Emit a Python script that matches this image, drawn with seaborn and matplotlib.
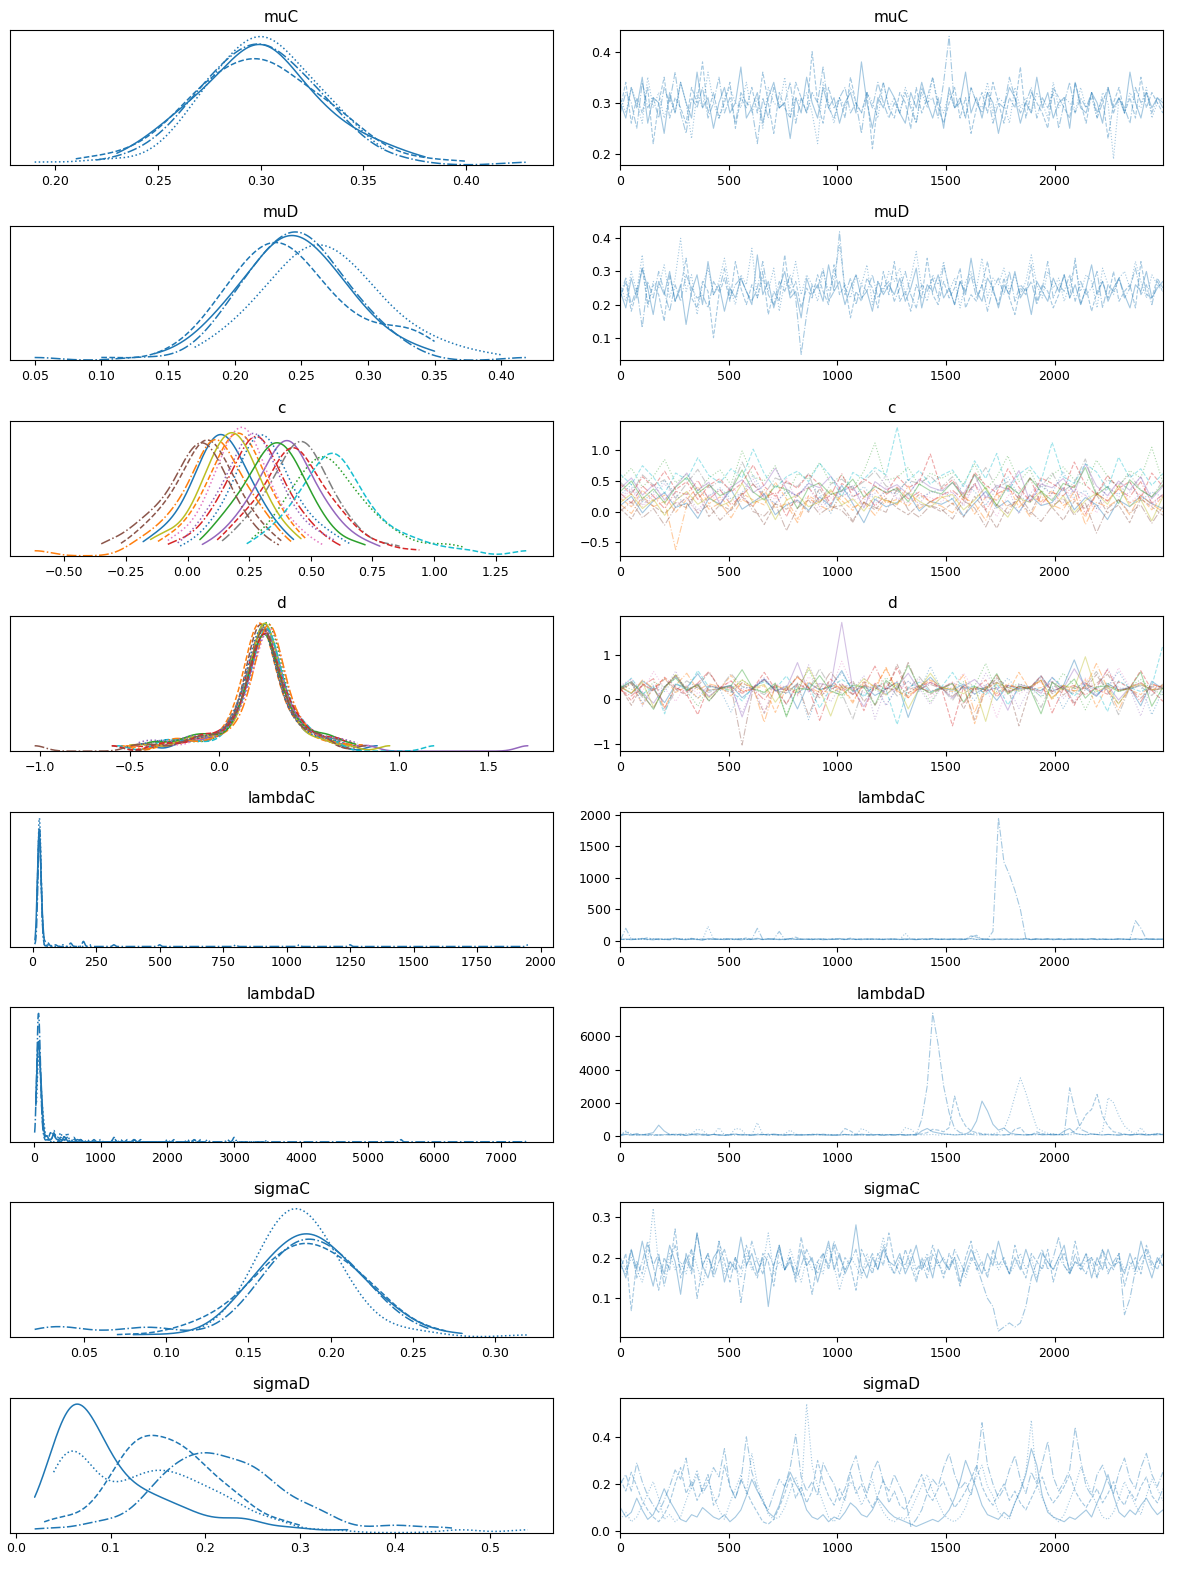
import numpy as np
import matplotlib
matplotlib.use("Agg")
import matplotlib.pyplot as plt
import seaborn as sns

var_names = ["muC", "muD", "c", "d", "lambdaC", "lambdaD", "sigmaC", "sigmaD"]
n_draws = 2500

# thinned posterior draws, one list per chain.
# mu, sigma, c and d are written in hundredths (see value_unit below)
muC_chains = [
    [30, 27, 33, 29, 35, 26, 31, 30, 24, 32, 28, 34, 30, 27, 36, 29, 31, 25, 30, 33, 28, 30, 37, 27, 29, 32, 26, 31, 34, 29,
     30, 23, 31, 28, 35, 30, 27, 33, 29, 31, 26, 30, 32, 28, 38, 30, 25, 31, 29, 33, 31, 28, 26, 32, 29, 34, 30, 27, 31, 25,
     33, 29, 30, 36, 28, 31, 27, 32, 30, 24, 29, 33, 31, 26, 30, 28, 35, 29, 32, 27, 30, 31, 25, 34, 29, 28, 32, 30, 26, 33,
     29, 31, 28, 36, 30, 27, 32, 29, 31, 30],
    [29, 34, 26, 31, 28, 33, 22, 30, 35, 27, 31, 29, 26, 33, 30, 38, 28, 32, 27, 30, 34, 25, 31, 29, 33, 28, 36, 30, 24, 32,
     29, 27, 34, 31, 28, 40, 30, 26, 33, 29, 31, 27, 35, 30, 28, 32, 21, 30, 34, 29, 27, 32, 30, 25, 33, 28, 31, 35, 29, 26,
     30, 33, 27, 31, 24, 29, 32, 28, 34, 30, 26, 31, 29, 37, 27, 32, 30, 28, 25, 33, 31, 29, 27, 34, 30, 26, 32, 28, 31, 23,
     30, 33, 28, 31, 27, 35, 29, 32, 30, 28],
    [31, 28, 33, 30, 26, 35, 29, 32, 27, 31, 28, 34, 30, 23, 32, 29, 36, 30, 27, 31, 33, 30, 29, 34, 28, 31, 25, 33, 30, 29,
     35, 27, 31, 30, 32, 28, 22, 34, 30, 26, 31, 29, 33, 30, 28, 32, 30, 27, 34, 29, 31, 28, 33, 30, 26, 32, 29, 35, 30, 28,
     32, 29, 31, 27, 33, 30, 29, 34, 28, 31, 30, 26, 33, 29, 31, 28, 32, 30, 27, 34, 29, 31, 30, 28, 33, 29, 31, 27, 32, 30,
     19, 31, 28, 32, 30, 29, 33, 27, 30, 31],
    [28, 32, 30, 25, 34, 29, 31, 27, 33, 30, 36, 28, 24, 31, 29, 33, 27, 30, 35, 28, 31, 26, 32, 30, 29, 22, 31, 27, 33, 29,
     30, 34, 26, 31, 28, 32, 30, 37, 29, 27, 31, 33, 28, 30, 24, 32, 29, 34, 30, 27, 30, 28, 32, 29, 26, 33, 30, 31, 27, 34,
     43, 29, 31, 27, 33, 30, 28, 32, 26, 30, 29, 35, 31, 28, 30, 33, 27, 31, 29, 32, 25, 30, 34, 28, 31, 29, 32, 27, 30, 33,
     28, 31, 29, 26, 33, 30, 32, 28, 31, 29],
]

muD_chains = [
    [24, 19, 28, 22, 31, 25, 17, 27, 23, 30, 21, 26, 14, 24, 29, 20, 33, 23, 26, 18, 25, 22, 28, 24, 20, 35, 23, 27, 19, 25,
     30, 22, 24, 16, 28, 23, 26, 21, 32, 24, 27, 20, 25, 29, 22, 24, 18, 27, 23, 26, 23, 28, 21, 25, 31, 19, 26, 24, 29, 22,
     25, 20, 27, 23, 34, 24, 21, 28, 25, 19, 26, 23, 30, 22, 25, 17, 27, 24, 21, 28, 24, 29, 22, 26, 20, 25, 32, 23, 27, 21,
     25, 28, 23, 19, 26, 24, 30, 22, 25, 27],
    [22, 27, 18, 24, 31, 20, 26, 23, 15, 29, 21, 25, 34, 22, 19, 27, 24, 10, 23, 28, 21, 33, 25, 20, 26, 22, 30, 17, 24, 21,
     35, 23, 27, 19, 25, 22, 29, 24, 20, 32, 23, 26, 16, 24, 21, 28, 25, 19, 30, 23, 33, 21, 24, 18, 26, 22, 34, 23, 20, 27,
     22, 25, 31, 19, 23, 21, 26, 33, 24, 20, 28, 22, 17, 25, 23, 32, 21, 26, 24, 19, 23, 29, 22, 34, 20, 25, 18, 24, 27, 22,
     30, 21, 24, 26, 19, 33, 23, 22, 28, 25],
    [26, 21, 30, 24, 35, 19, 27, 25, 32, 22, 28, 40, 24, 29, 17, 26, 31, 23, 27, 34, 25, 20, 29, 26, 37, 22, 28, 24, 31, 18,
     27, 25, 33, 23, 29, 26, 21, 30, 24, 28, 38, 25, 22, 29, 26, 32, 20, 27, 24, 30, 27, 31, 23, 28, 36, 25, 21, 29, 26, 33,
     24, 28, 19, 27, 30, 25, 34, 22, 28, 26, 31, 24, 29, 23, 27, 35, 26, 22, 30, 25, 28, 21, 26, 32, 24, 29, 27, 19, 31, 26,
     23, 28, 30, 25, 33, 27, 22, 29, 26, 24],
    [23, 28, 20, 25, 13, 27, 22, 30, 24, 18, 26, 21, 29, 25, 22, 23, 19, 27, 24, 31, 22, 26, 28, 24, 21, 25, 33, 23, 20, 27,
     24, 29, 22, 5, 17, 26, 25, 31, 21, 24, 42, 23, 28, 20, 26, 24, 29, 22, 25, 27, 21, 25, 30, 23, 19, 26, 24, 28, 22, 32,
     25, 20, 27, 24, 29, 22, 26, 18, 25, 28, 23, 30, 21, 26, 24, 27, 20, 25, 33, 22, 26, 24, 29, 21, 27, 23, 25, 30, 19, 26,
     24, 28, 22, 25, 31, 23, 26, 20, 27, 24],
]

# c and d: one thinned list per component (colours cycle over components)
c_components = [
    [10, 25, -2, 18, 31, 7, 14, -11, 22, 12, 36, 4, 16, 28, -5, 11, 19, 2, 24, 9, 43, 13, -18, 20, 8, 15, 30, 1, 17, 12,
     21, -7, 14, 33, 6, 18, -1, 27, 10, 15, 39, 3, 23, 11, -13, 19, 8, 26, 13, 5],
    [22, 8, 35, 17, 27, -1, 20, 41, 13, 24, 5, 30, 19, 11, 48, 21, -12, 26, 15, 33, 18, 2, 23, 37, 14, 20, 9, 28, 16, 25,
     12, 31, -4, 24, 19, 44, 7, 27, 16, 35, 10, 21, -9, 29, 18, 38, 14, 23, 3, 26],
    [52, 71, 40, 58, 85, 47, 61, 33, 55, 68, 44, 99, 57, 50, 75, 26, 62, 53, 80, 46, 59, 38, 66, 112, 51, 56, 72, 42, 63, 54,
     64, 45, 78, 36, 57, 91, 49, 69, 28, 60, 73, 52, 43, 84, 58, 39, 67, 55, 105, 48],
    [30, 14, 42, 25, 5, 33, 28, 51, 20, 36, 11, 27, 45, 23, 31, -8, 29, 39, 18, 26, 62, 24, 34, 9, 28, 40, 21, 32, 16, 27,
     35, 19, 47, 3, 29, 38, 22, 55, 12, 31, 26, 43, -4, 30, 17, 37, 24, 49, 14, 28],
    [38, 55, 27, 44, 19, 41, 63, 35, 48, 12, 40, 52, 31, 43, 71, 37, 25, 46, 39, 58, 33, 42, 6, 49, 36, 44, 28, 53, 40, 34,
     47, 29, 60, 22, 43, 36, 67, 16, 45, 39, 54, 31, 78, 42, 26, 50, 35, 57, 21, 41],
    [5, -12, 20, 9, -3, 15, 6, 31, -8, 11, 2, 24, 8, -21, 13, 4, 18, -1, 38, 7, 10, -15, 16, 3, 22, 6, -5, 12, 9, 0,
     14, -9, 25, 2, -27, 10, 19, -4, 33, 7, -14, 17, 5, 28, -2, 11, -18, 21, 8, -6],
    [19, 36, 8, 24, 30, 13, 21, -4, 27, 17, 42, 23, 10, 29, 20, 55, 15, 25, 2, 22, 33, 18, 26, 11, 39, 21, 14, 28, 23, 16,
     31, 12, 45, 20, -8, 26, 35, 17, 23, 6, 40, 19, 28, -2, 24, 48, 14, 30, 9, 25],
    [48, 31, 60, 43, 52, 22, 46, 69, 39, 50, 35, 81, 44, 28, 55, 47, 41, 62, 14, 45, 53, 37, 49, 66, 42, 33, 51, 46, 58, 40,
     57, 26, 44, 72, 38, 49, 19, 54, 41, 63, 33, 47, 86, 29, 52, 43, 61, 36, 24, 50],
    [15, 29, 5, 20, -6, 18, 33, 12, 24, 9, 17, 46, 14, 22, -13, 19, 27, 8, 16, 36, 11, 21, 1, 25, 18, 13, 31, 17, 7, 23,
     28, 3, 19, 40, 10, -9, 22, 15, 34, 6, 26, -2, 18, 30, 12, 43, 9, 20, -15, 24],
    [61, 44, 75, 56, 30, 63, 52, 88, 59, 47, 70, 55, 102, 62, 38, 57, 66, 49, 79, 58, 24, 64, 53, 72, 60, 138, 51, 67, 45, 59,
     68, 41, 83, 54, 95, 33, 61, 74, 50, 113, 57, 46, 78, 65, 36, 89, 55, 70, 43, 62],
    [27, 44, 16, 32, 51, 29, 8, 35, 25, 39, 21, 31, 60, 28, 13, 34, 26, 47, 30, -3, 36, 24, 41, 19, 33, 29, 54, 22, 31, 37,
     20, 45, 33, 10, 38, 57, 26, 15, 42, 30, 66, 23, 35, 5, 40, 28, 49, 18, 32, 24],
    [12, -3, 25, 8, 17, -62, 11, 31, 4, 14, -10, 20, 9, 36, 6, 13, -18, 22, 10, 1, 28, 7, 15, -6, 19, 11, 42, 5, 16, 9,
     -2, 23, 13, -14, 30, 6, 18, -8, 26, 11, 3, 34, -21, 15, 8, 20, -5, 27, 12, 0],
    [33, 50, 21, 37, 14, 40, 56, 30, 44, 26, 35, 68, 32, 19, 42, 36, 5, 39, 47, 28, 34, 53, 24, 41, 31, 38, 16, 45, 34, 29,
     48, 22, 61, 37, 10, 43, 29, 55, 33, 18, 46, 39, 72, 27, 41, 13, 52, 35, 24, 44],
    [45, 28, 57, 40, 66, 36, 49, 20, 43, 54, 32, 47, 76, 41, 25, 50, 38, 61, 44, 12, 46, 35, 53, 42, 30, 58, 39, 48, 94, 37,
     52, 23, 64, 43, 31, 70, 40, 17, 55, 46, 34, 81, 44, 27, 59, 38, 49, 21, 63, 41],
    [23, 39, 11, 27, 46, 20, 31, 2, 26, 35, 17, 28, 53, 22, 14, 33, 25, 41, 8, 29, 24, 37, 19, 30, 60, 21, 26, 13, 34, 27,
     32, 9, 44, 25, 18, 38, -4, 29, 50, 22, 15, 36, 27, 5, 42, 24, 31, 57, 12, 28],
    [1, 16, -10, 5, -22, 8, 24, -2, 11, -14, 4, 30, 0, -7, 13, -31, 6, 19, -4, 9, 2, -17, 15, 7, -1, 37, 3, -9, 10, 4,
     -12, 18, 6, -25, 12, -3, 27, 1, -16, 9, 22, -6, 14, -35, 5, 20, -2, 11, -19, 8],
]

d_components = [
    [28, 12, 41, 22, -8, 33, 26, 57, 19, 25, 31, 3, 24, 45, 18, 29, -22, 36, 21, 27, 64, 16, 30, 8, 23, 38, -41, 26, 49, 24,
     20, 34, 11, 27, -3, 31, 22, 25, 52, 17, 29, 88, 24, 6, 35, 21, 26, -15, 40, 23],
    [19, 35, -12, 24, 47, 15, 28, 2, 21, 23, 53, 18, 22, 30, -30, 25, 11, 39, 20, 14, 27, -5, 33, 21, 71, 16, 8, 25, 42, 22,
     17, 29, -55, 23, 36, 13, 60, 21, 26, 4, 24, 18, 44, -18, 30, 20, 22, 10, 32, 27],
    [31, 22, 9, 38, 27, 55, 18, -16, 29, 26, 24, 43, 27, 14, 33, -37, 26, 65, 20, 30, 1, 35, 25, 19, 48, 28, 12, 31, -7, 27,
     23, 39, 29, 80, 16, 26, 34, 28, 5, 21, 58, 30, -24, 25, 37, 17, 27, 44, 22, 10],
    [20, 7, 30, 46, -20, 25, 16, 36, 62, 24, 27, 13, 23, -2, 32, 19, 50, 26, -48, 22, 34, 11, 28, 74, 21, 40, 3, 25, 17, 24,
     38, -11, 26, 20, 54, 14, 29, 23, 43, -31, 22, 31, 9, 27, 66, 18, 25, -6, 35, 24],
    [25, 39, 14, -9, 28, 51, 21, 33, 6, 26, 30, -40, 27, 45, 19, 24, 82, 16, 35, 29, 172, 22, -17, 31, 11, 27, 58, 20, 38, 25,
     2, 29, 44, 18, 26, -25, 33, 27, 13, 49, 23, 68, 28, 8, 31, -2, 26, 37, 19, 24],
    [26, -14, 33, 18, 45, 22, 8, 29, 60, 23, 15, 37, 22, -32, 27, 19, 52, 24, 3, 31, 20, 41, -6, 25, 16, 78, 21, 30, 11, 23,
     35, -22, 24, 14, 48, 27, -60, 22, 19, 39, 9, 28, 23, 55, 17, -10, 22, 32, 21, 26],
    [30, 46, 17, 62, 24, -5, 33, 12, 28, 27, 40, 21, 29, -28, 35, 26, 7, 50, 31, 19, 85, 27, 14, 36, -15, 30, 24, 44, 2, 28,
     26, 58, 20, 33, -42, 29, 11, 27, 38, 23, 32, -8, 47, 25, 18, 70, 28, 35, 16, 30],
    [22, 34, 4, 27, -26, 19, 41, 25, 15, 24, 57, 28, 23, 10, 31, -12, 36, 20, 68, 26, 13, -45, 29, 24, 39, 7, 22, 50, 18, 25,
     -3, 33, 21, 26, 46, 16, 28, 24, -19, 37, 23, 12, 30, 62, 20, -35, 25, 29, 8, 34],
    [27, 14, 38, -18, 24, 55, 21, 31, 3, 26, 20, 43, 25, 33, -7, 28, 16, 71, 23, -38, 30, 19, 46, 26, 9, 35, -22, 24, 58, 25,
     22, 12, 29, -50, 37, 26, 18, 27, 42, 1, 31, 24, 95, 17, 28, -11, 26, 34, 20, 23],
    [24, 47, 11, 29, -33, 36, 20, 64, 27, 26, 18, -4, 27, 39, 23, 52, 14, 30, -20, 25, 44, 28, 5, 33, 21, -57, 26, 38, 16, 27,
     60, 22, 30, 10, 35, -13, 25, 28, 19, 48, 27, 7, 32, 24, -28, 41, 26, 17, 29, 120],
    [21, 36, -8, 25, 17, 50, 23, 2, 31, 22, -29, 27, 24, 44, 19, 12, 34, -46, 22, 28, 59, 20, 9, 30, -14, 25, 40, 16, 73, 23,
     14, 26, -3, 33, 21, 47, 18, 24, 6, 29, -21, 23, 38, 11, 27, 62, 22, 31, -35, 20],
    [29, 13, 43, 24, -19, 31, 58, 20, 34, 28, 7, 36, 26, -52, 30, 23, 49, 27, 15, 33, 25, -9, 39, 28, 68, 19, 3, 30, 45, 26,
     22, 54, -30, 29, 12, 35, 24, 28, 41, -2, 31, 18, 27, 80, 25, -24, 27, 37, 20, 32],
    [26, 39, 12, -23, 28, 47, 19, 33, -4, 24, 30, 66, 23, 15, 36, -40, 25, 21, 53, 18, 9, 31, 27, -13, 42, 22, 76, 26, 14, 24,
     35, -7, 28, 20, 57, 11, 29, 23, -33, 38, 21, 45, 2, 27, 30, 17, 24, 61, -16, 26],
    [23, -3, 34, 20, 49, 27, 10, -35, 30, 25, 41, 16, 24, 60, 22, -11, 32, 26, 8, 45, 19, 28, -26, 35, 23, 70, 14, 29, 37, 25,
     -60, 27, 21, 43, 5, 31, 25, 26, 52, 17, 28, -14, 36, 22, 11, 39, 25, 64, 20, -5],
    [28, 44, -16, 31, 22, 63, 14, 36, 5, 26, 24, -31, 27, 48, 19, 30, 9, 77, 25, -6, 33, 21, 52, -45, 29, 16, 40, 24, -12, 26,
     37, 26, 11, 58, 23, 30, -21, 28, 18, 42, 1, 27, 34, 20, 69, 25, 24, -38, 31, 15],
    [22, 37, 8, -21, 26, 53, 18, 31, -5, 24, 28, -103, 25, 43, 20, 14, 35, -36, 23, 61, 27, 10, 40, -14, 25, 19, 82, 22, 33, 24,
     6, 29, -47, 26, 38, 17, 23, 25, 48, 12, 30, -9, 21, 35, 56, 20, 24, 2, 27, 29],
]

lambdaC_chains = [
    [22, 31, 18, 27, 40, 25, 16, 34, 21, 29, 45, 24, 19, 33, 26, 9, 38, 23, 28, 20, 35, 27, 17, 30, 24, 42, 22, 26, 31, 19,
     28, 36, 23, 25, 29, 21, 33, 18, 27, 24, 39, 22, 30, 26, 20, 34, 25, 28, 23, 31, 27, 21, 33, 25, 19, 30, 26, 35, 22, 28,
     24, 31, 20, 27, 36, 23, 29, 25, 18, 32, 26, 22, 30, 24, 37, 21, 28, 25, 33, 19, 27, 24, 31, 22, 29, 26, 34, 20, 28, 25,
     23, 30, 26, 21, 35, 24, 28, 27, 22, 30],
    [26, 19, 35, 24, 28, 52, 21, 30, 23, 17, 33, 27, 25, 41, 20, 29, 24, 36, 22, 27, 31, 18, 26, 48, 23, 29, 21, 34, 25, 27,
     20, 32, 60, 24, 28, 22, 30, 26, 19, 35, 23, 27, 44, 21, 29, 25, 32, 24, 28, 22, 30, 25, 19, 34, 27, 23, 29, 38, 24, 26,
     21, 28, 32, 25, 80, 60, 28, 24, 30, 22, 27, 35, 23, 26, 29, 21, 31, 25, 28, 33, 24, 20, 27, 30, 26, 23, 29, 34, 22, 27,
     25, 31, 28, 22, 26, 24, 30, 27, 33, 23],
    [30, 24, 21, 36, 27, 19, 32, 25, 30, 28, 22, 34, 26, 31, 23, 18, 230, 29, 25, 38, 22, 27, 33, 24, 20, 30, 26, 35, 23, 28,
     25, 21, 31, 27, 24, 36, 22, 29, 26, 33, 25, 20, 28, 24, 31, 27, 23, 34, 26, 29, 28, 22, 120, 25, 30, 26, 21, 29, 24, 32,
     27, 23, 30, 26, 35, 22, 28, 25, 31, 24, 29, 26, 22, 33, 27, 24, 30, 25, 28, 21, 32, 26, 24, 29, 27, 23, 31, 25, 28, 26,
     24, 30, 27, 22, 29, 25, 33, 26, 28, 24],
    [8, 200, 27, 22, 31, 25, 36, 20, 28, 24, 33, 26, 29, 23, 35, 27, 21, 30, 26, 32, 24, 28, 37, 22, 27, 200, 25, 30, 29, 150,
     23, 34, 27, 31, 24, 29, 22, 33, 27, 25, 30, 26, 28, 23, 32, 24, 29, 27, 21, 31, 26, 30, 24, 28, 22, 33, 27, 25, 29, 24,
     31, 26, 28, 24, 60, 90, 27, 30, 150, 1950, 1250, 1050, 800, 500, 40, 26, 31, 24, 29, 22, 33, 27, 25, 30, 28, 24, 31, 26,
     29, 23, 27, 30, 24, 28, 320, 200, 26, 29, 25, 28],
]

lambdaD_chains = [
    [60, 110, 40, 90, 55, 120, 200, 650, 300, 90, 55, 120, 35, 80, 150, 70, 45, 95, 60, 30, 75, 110, 50, 85, 40, 65, 95, 55,
     120, 70, 45, 90, 60, 35, 80, 55, 100, 70, 40, 65, 50, 85, 60, 45, 110, 70, 55, 90, 40, 75, 60, 95, 50, 80, 45, 300, 450,
     250, 180, 120, 90, 60, 75, 110, 300, 900, 2100, 1500, 700, 350, 480, 200, 110, 75, 60, 90, 130, 55, 80, 110, 65, 300,
     450, 150, 90, 70, 120, 85, 60, 95, 70, 50, 110, 65, 85, 120, 60, 90, 140, 80],
    [30, 250, 90, 45, 70, 120, 55, 30, 80, 90, 95, 60, 40, 110, 70, 50, 35, 90, 65, 40, 85, 120, 55, 70, 45, 95, 60, 110,
     80, 65, 50, 75, 40, 90, 60, 110, 70, 55, 85, 45, 65, 450, 300, 95, 60, 80, 55, 70, 40, 90, 60, 85, 75, 50, 100, 120,
     200, 400, 350, 250, 500, 2400, 1200, 600, 300, 200, 140, 90, 60, 80, 55, 70, 400, 500, 100, 65, 250, 120, 90, 70, 80,
     60, 150, 300, 700, 1300, 1600, 2500, 1200, 600, 250, 180, 95, 60, 80, 110, 70, 55, 90, 75],
    [80, 300, 120, 60, 90, 45, 40, 75, 50, 110, 65, 40, 150, 130, 400, 350, 55, 95, 500, 60, 45, 450, 400, 50, 70, 800, 100,
     55, 85, 70, 130, 350, 95, 60, 80, 70, 110, 50, 90, 60, 75, 55, 95, 70, 450, 300, 60, 80, 100, 55, 85, 70, 500, 400, 130,
     60, 75, 90, 55, 80, 110, 70, 95, 60, 140, 160, 85, 110, 130, 200, 400, 1200, 2400, 3500, 2600, 1500, 500, 300, 160, 120,
     80, 95, 60, 140, 90, 75, 110, 85, 300, 2300, 2000, 1200, 600, 300, 110, 500, 85, 90, 150, 120],
    [12, 90, 55, 150, 70, 40, 95, 60, 85, 50, 120, 70, 45, 80, 55, 110, 65, 90, 50, 75, 60, 45, 95, 70, 55, 130, 90, 60, 75,
     45, 80, 55, 95, 70, 60, 85, 50, 110, 65, 40, 70, 95, 55, 80, 60, 45, 90, 75, 60, 85, 50, 70, 45, 90, 60, 1000, 3000,
     7400, 5500, 3000, 1400, 450, 200, 120, 90, 60, 75, 55, 80, 45, 70, 90, 60, 85, 50, 75, 65, 110, 80, 60, 95, 70, 2900,
     1500, 400, 250, 110, 90, 60, 85, 70, 55, 80, 65, 90, 75, 60, 85, 70, 95],
]

sigmaC_chains = [
    [19, 15, 22, 17, 24, 18, 13, 20, 16, 23, 19, 11, 21, 17, 26, 18, 15, 20, 22, 14, 19, 17, 25, 18, 21, 16, 20, 8, 18, 23,
     17, 19, 15, 22, 18, 20, 14, 19, 24, 17, 21, 16, 19, 28, 18, 15, 20, 17, 22, 19, 18, 21, 16, 19, 23, 17, 20, 15, 22, 19,
     17, 20, 14, 18, 22, 19, 16, 21, 18, 24, 19, 16, 20, 17, 22, 18, 14, 21, 19, 17, 20, 23, 16, 19, 18, 21, 15, 20, 17, 22,
     18, 19, 16, 21, 17, 24, 19, 15, 20, 18],
    [17, 21, 7, 19, 16, 23, 18, 12, 20, 17, 27, 15, 19, 22, 10, 18, 21, 16, 24, 19, 14, 20, 17, 23, 18, 15, 21, 19, 13, 22,
     17, 20, 16, 25, 18, 11, 19, 21, 17, 23, 15, 20, 18, 12, 22, 19, 16, 21, 18, 26, 19, 16, 22, 18, 14, 20, 17, 23, 19, 15,
     21, 18, 13, 20, 24, 17, 19, 15, 22, 18, 20, 16, 23, 18, 15, 21, 19, 17, 22, 14, 19, 21, 17, 24, 18, 16, 20, 15, 22, 19,
     17, 21, 13, 18, 20, 16, 23, 19, 17, 21],
    [18, 16, 20, 17, 14, 19, 32, 18, 15, 21, 17, 19, 16, 22, 18, 13, 20, 17, 24, 16, 19, 18, 15, 21, 17, 20, 18, 26, 16, 19,
     17, 22, 18, 14, 20, 17, 19, 16, 23, 18, 12, 17, 20, 18, 15, 21, 17, 19, 25, 18, 16, 19, 17, 20, 15, 18, 21, 17, 19, 16,
     18, 20, 17, 15, 19, 22, 18, 16, 20, 17, 19, 16, 18, 21, 17, 20, 15, 18, 19, 17, 20, 18, 16, 19, 17, 21, 18, 15, 19, 17,
     18, 20, 17, 19, 16, 18, 21, 17, 19, 18],
    [20, 17, 22, 15, 19, 24, 18, 21, 13, 19, 23, 17, 20, 16, 26, 18, 21, 15, 19, 22, 17, 20, 9, 18, 24, 19, 16, 21, 18, 23,
     17, 20, 14, 18, 22, 19, 16, 21, 18, 24, 20, 17, 19, 22, 16, 18, 21, 17, 23, 19, 16, 20, 18, 22, 17, 19, 15, 21, 18, 20,
     17, 22, 19, 16, 20, 18, 14, 10, 8, 2, 3, 4, 3, 4, 8, 15, 19, 22, 17, 20, 25, 18, 16, 21, 17, 19, 20, 18, 22, 16,
     19, 21, 6, 10, 17, 20, 22, 18, 19, 21],
]

sigmaD_chains = [
    [10, 6, 8, 14, 9, 5, 7, 12, 18, 13, 9, 5, 4, 7, 6, 10, 8, 6, 5, 7, 4, 6, 9, 15, 22, 17, 13, 8, 6, 11, 19, 25, 20, 16,
     9, 6, 5, 7, 4, 6, 5, 8, 12, 10, 7, 6, 9, 14, 11, 8, 6, 5, 4, 3, 2, 3, 4, 5, 4, 6, 9, 14, 21, 30, 24, 18, 11, 7, 6, 5,
     8, 6, 12, 17, 24, 35, 28, 15, 8, 6, 5, 4, 6, 5, 7, 9, 6, 12, 17, 24, 15, 8, 6, 9, 7, 11, 14, 10, 7, 9],
    [22, 17, 25, 19, 13, 9, 6, 4, 7, 12, 20, 27, 16, 21, 13, 18, 24, 11, 15, 28, 19, 14, 22, 17, 12, 8, 4, 3, 5, 10, 16,
     23, 14, 19, 12, 17, 30, 21, 15, 11, 18, 13, 25, 16, 20, 14, 10, 15, 22, 12, 17, 11, 9, 14, 19, 24, 16, 13, 18, 21, 15,
     10, 13, 17, 22, 28, 19, 14, 11, 16, 20, 13, 17, 12, 9, 14, 19, 23, 16, 12, 15, 19, 24, 17, 13, 10, 14, 18, 12, 16, 21,
     14, 11, 17, 13, 19, 23, 15, 12, 18],
    [5, 8, 4, 6, 11, 16, 21, 14, 5, 7, 4, 6, 13, 19, 26, 17, 22, 15, 9, 5, 12, 18, 24, 16, 33, 20, 14, 7, 5, 6, 10, 17, 23,
     15, 54, 28, 19, 12, 6, 4, 7, 15, 21, 18, 11, 16, 22, 13, 8, 5, 4, 6, 5, 9, 14, 19, 24, 17, 12, 7, 5, 4, 6, 10, 17, 23,
     28, 19, 15, 8, 6, 5, 12, 18, 25, 47, 20, 14, 9, 6, 4, 7, 13, 19, 27, 22, 16, 11, 6, 5, 8, 14, 21, 16, 11, 7, 15, 22,
     18, 13],
    [20, 24, 17, 29, 21, 15, 11, 8, 13, 19, 26, 22, 31, 18, 24, 16, 20, 27, 23, 35, 19, 14, 21, 40, 25, 18, 12, 9, 16, 22,
     19, 27, 41, 23, 17, 21, 15, 29, 24, 20, 13, 18, 26, 32, 22, 16, 25, 30, 21, 17, 24, 19, 14, 2, 5, 9, 16, 22, 19, 27,
     33, 24, 18, 21, 15, 26, 46, 28, 20, 14, 18, 26, 32, 22, 16, 25, 20, 29, 38, 23, 17, 21, 26, 44, 30, 19, 15, 24, 28, 21,
     16, 25, 31, 22, 18, 27, 33, 24, 19, 25],
]

traces = {
    "muC": muC_chains, "muD": muD_chains, "c": c_components, "d": d_components,
    "lambdaC": lambdaC_chains, "lambdaD": lambdaD_chains,
    "sigmaC": sigmaC_chains, "sigmaD": sigmaD_chains,
}
value_unit = {"muC": 0.01, "muD": 0.01, "c": 0.01, "d": 0.01,
              "lambdaC": 1, "lambdaD": 1, "sigmaC": 0.01, "sigmaD": 0.01}

# kde bandwidth in data units for each variable
kde_bw = {"muC": 0.013, "muD": 0.018, "c": 0.065, "d": 0.06,
          "lambdaC": 5, "lambdaD": 18, "sigmaC": 0.015, "sigmaD": 0.02}

chain_styles = ["-", "--", ":", "-."]
palette = sns.color_palette("tab10")

sns.set_style("ticks", {"axes.edgecolor": "0", "xtick.color": "0", "ytick.color": "0", "text.color": "0"})
plt.rcParams["font.family"] = ["DejaVu Sans"]
plt.rcParams["xtick.labelsize"] = 9
plt.rcParams["ytick.labelsize"] = 9

fig, axes = plt.subplots(
    8, 2, figsize=(11.89, 15.89), dpi=100,
    gridspec_kw=dict(left=0.0084, right=0.978, top=0.981, bottom=0.0355, hspace=0.448, wspace=0.125),
)

for row, name in enumerate(var_names):
    ax_kde, ax_tr = axes[row]
    multi = name in ("c", "d")
    for i, raw in enumerate(traces[name]):
        vals = np.asarray(raw, dtype=float) * value_unit[name]
        color = palette[i % 10] if multi else palette[0]
        ls = chain_styles[i % 4]
        sns.kdeplot(x=vals, ax=ax_kde, color=color, linestyle=ls, linewidth=1.1, cut=0, gridsize=1500,
                    bw_method=kde_bw[name] / vals.std(ddof=1))
        draws = np.linspace(0, n_draws - 1, len(vals))
        sns.lineplot(x=draws, y=vals, ax=ax_tr, color=color, linestyle=ls, linewidth=0.8, alpha=0.4)

    ax_kde.set_yticks([])
    ax_kde.set_ylabel("")
    ax_kde.set_title(name, fontsize=11)
    ax_tr.set_xlim(0, n_draws - 1)
    ax_tr.set_title(name, fontsize=11)
    ax_tr.set_xticks([0, 500, 1000, 1500, 2000])

fig.savefig("out.png", dpi=100)
